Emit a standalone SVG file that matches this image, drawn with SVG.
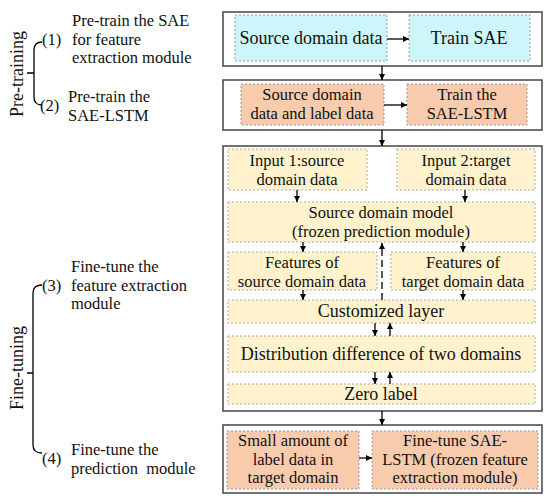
<svg xmlns="http://www.w3.org/2000/svg" width="550" height="502" viewBox="0 0 550 502">
<defs>
<marker id="ah" viewBox="0 0 10 10" refX="10" refY="5" markerWidth="6" markerHeight="6" markerUnits="userSpaceOnUse" orient="auto"><path d="M0,0 L10,5 L0,10 z" fill="#000"/></marker>
<style>
text{font-family:"Liberation Serif","Times New Roman",serif;font-size:16.5px;fill:#111}
.c{text-anchor:middle}
.outer{fill:#fff;stroke:#444;stroke-width:1.5}
.cy{fill:#ccf6fa;stroke:#999;stroke-width:1;stroke-dasharray:2,2}
.or{fill:#f8cbad;stroke:#999;stroke-width:1;stroke-dasharray:2,2}
.ye{fill:#fff2cc;stroke:#aaa;stroke-width:1;stroke-dasharray:2,2}
.a{stroke:#000;stroke-width:1.3;fill:none;marker-end:url(#ah)}
.br{stroke:#000;stroke-width:1.3;fill:none}
</style>
</defs>
<rect width="550" height="502" fill="#fff"/>
<g id="labels">
<text transform="translate(23,74) rotate(-90)" class="c" style="font-size:18px">Pre-training</text>
<path class="br" d="M42,42 Q34,42 34,50 L34,97 Q34,105 42,105 M27,73 L34,73"/>
<text x="42" y="44.5">(1)</text>
<text x="72" y="26">Pre-train the SAE</text>
<text x="72" y="44.5">for feature</text>
<text x="72" y="63">extraction module</text>
<text x="40" y="111">(2)</text>
<text x="68" y="102">Pre-train the</text>
<text x="68" y="120.5">SAE-LSTM</text>
<text transform="translate(23,368) rotate(-90)" class="c" style="font-size:18px">Fine-tuning</text>
<path class="br" d="M42,285 Q33,285 33,293 L33,445 Q33,453 42,453 M27,373 L33,373"/>
<text x="42" y="290.5">(3)</text>
<text x="71" y="272">Fine-tune the</text>
<text x="71" y="290.5">feature extraction</text>
<text x="71" y="309">module</text>
<text x="42" y="464">(4)</text>
<text x="71" y="455">Fine-tune the</text>
<text x="71" y="473.5" xml:space="preserve">prediction  module</text>
</g>
<g id="stage1">
<rect class="outer" x="223" y="12" width="319" height="54"/>
<g id="n1"><rect class="cy" x="235" y="15" width="152" height="46"/><text class="c" x="311" y="44" style="font-size:18px">Source domain data</text></g>
<g id="n2"><rect class="cy" x="409" y="15" width="121" height="46"/><text class="c" x="469" y="44" style="font-size:18px">Train SAE</text></g>
</g>
<g id="stage2">
<rect class="outer" x="223" y="80" width="319" height="50"/>
<g id="n3"><rect class="or" x="241" y="84" width="143" height="41"/><text class="c" x="312" y="100">Source domain</text><text class="c" x="312" y="118.5">data and label data</text></g>
<g id="n4"><rect class="or" x="407" y="84" width="120" height="41"/><text class="c" x="467" y="100">Train the</text><text class="c" x="467" y="118.5">SAE-LSTM</text></g>
</g>
<g id="stage3">
<rect class="outer" x="223" y="146" width="319" height="265"/>
<g id="n5"><rect class="ye" x="228" y="149" width="139" height="41"/><text class="c" x="297" y="166">Input 1:source</text><text class="c" x="297" y="184.5">domain data</text></g>
<g id="n6"><rect class="ye" x="397" y="149" width="138" height="41"/><text class="c" x="466" y="166">Input 2:target</text><text class="c" x="466" y="184.5">domain data</text></g>
<g id="n7"><rect class="ye" x="228" y="202" width="307" height="40"/><text class="c" x="381" y="218">Source domain model</text><text class="c" x="381" y="236.5">(frozen prediction module)</text></g>
<g id="n8"><rect class="ye" x="228" y="252" width="149" height="38"/><text class="c" x="302" y="268">Features of</text><text class="c" x="302" y="286.5">source domain data</text></g>
<g id="n9"><rect class="ye" x="391" y="252" width="144" height="38"/><text class="c" x="463" y="268">Features of</text><text class="c" x="463" y="286.5">target domain data</text></g>
<g id="n10"><rect class="ye" x="228" y="300" width="307" height="23"/><text class="c" x="381" y="317" style="font-size:18px">Customized layer</text></g>
<g id="n11"><rect class="ye" x="228" y="336" width="307" height="36"/><text class="c" x="381" y="360" style="font-size:18px">Distribution difference of two domains</text></g>
<g id="n12"><rect class="ye" x="228" y="384" width="307" height="20"/><text class="c" x="381" y="400" style="font-size:18px">Zero label</text></g>
</g>
<g id="stage4">
<rect class="outer" x="223" y="425" width="319" height="68"/>
<g id="n13"><rect class="or" x="227" y="431" width="132" height="58"/><text class="c" x="293" y="446">Small amount of</text><text class="c" x="293" y="464.5">label data in</text><text class="c" x="293" y="483">target domain</text></g>
<g id="n14"><rect class="or" x="372" y="431" width="166" height="58"/><text class="c" x="455" y="446">Fine-tune SAE-</text><text class="c" x="455" y="464.5">LSTM (frozen feature</text><text class="c" x="455" y="483">extraction module)</text></g>
</g>
<g id="connectors">
<line class="a" x1="387" y1="39" x2="409" y2="39"/>
<line class="a" x1="384" y1="105" x2="407" y2="105"/>
<line class="a" x1="359" y1="458" x2="372" y2="458"/>
<line class="a" x1="382" y1="66" x2="382" y2="80"/>
<line class="a" x1="382" y1="130" x2="382" y2="146"/>
<line class="a" x1="382" y1="411" x2="382" y2="425"/>
<line class="a" x1="297" y1="190" x2="297" y2="202"/>
<line class="a" x1="465" y1="190" x2="465" y2="202"/>
<line class="a" x1="303" y1="242" x2="303" y2="252"/>
<line class="a" x1="463" y1="242" x2="463" y2="252"/>
<line class="a" x1="303" y1="290" x2="303" y2="300"/>
<line class="a" x1="463" y1="290" x2="463" y2="300"/>
<line class="a" x1="382" y1="300" x2="382" y2="243" stroke-dasharray="7,4"/>
<line class="a" x1="375" y1="323" x2="375" y2="336"/>
<line class="a" x1="390" y1="336" x2="390" y2="323"/>
<line class="a" x1="375" y1="372" x2="375" y2="384"/>
<line class="a" x1="390" y1="384" x2="390" y2="372"/>
</g>
</svg>
